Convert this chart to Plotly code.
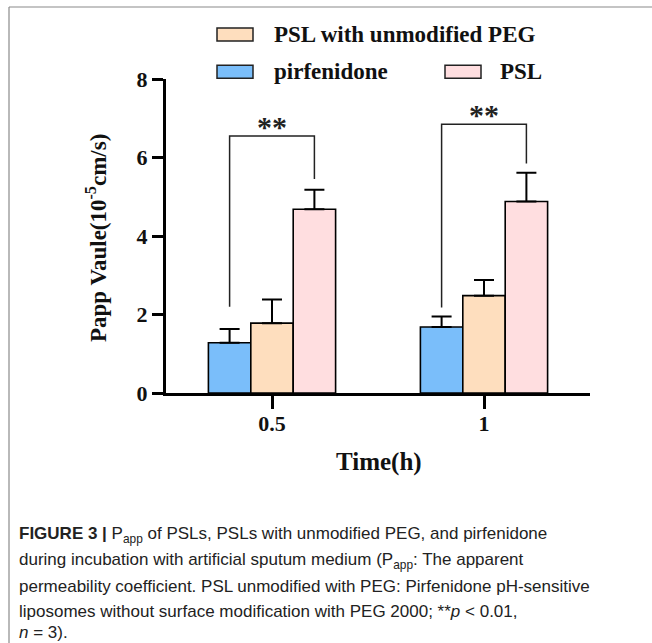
import plotly.graph_objects as go

# ---- data ----
categories = ["0.5", "1"]
series_names = ["pirfenidone", "PSL with unmodified PEG", "PSL"]
pirfenidone = [1.28, 1.68]
pirfenidone_err = [0.35, 0.27]
peg_unmod = [1.78, 2.48]
peg_unmod_err = [0.60, 0.40]
psl = [4.68, 4.88]
psl_err = [0.50, 0.73]
sig_labels = ["**", "**"]
bracket_top = [6.55, 6.85]
bracket_left_end = [2.20, 2.18]
bracket_right_end = [5.45, 5.85]
y_ticks = [0, 2, 4, 6, 8]

colors = ["rgb(122,190,250)", "rgb(254,222,190)", "rgb(255,222,224)"]
values = [pirfenidone, peg_unmod, psl]
errors = [pirfenidone_err, peg_unmod_err, psl_err]

W, H = 652, 643
L, R, T, B = 166, 590, 79, 393
xs = list(range(len(categories)))

SERIF = "Liberation Serif, Times New Roman, serif"
SANS = "Liberation Sans, Arial, sans-serif"


def px(xp):
    return (xp - L) / (R - L)


def py(yp):
    return (B - yp) / (B - T)


fig = go.Figure()
for name, v, e, c in zip(series_names, values, errors, colors):
    fig.add_trace(go.Bar(
        x=xs, y=v, name=name, marker=dict(color=c, line=dict(color="black", width=1.6)),
        error_y=dict(type="data", array=e, arrayminus=[0] * len(e), symmetric=False,
                     color="black", thickness=2, width=10),
        showlegend=False,
    ))

shapes = []
annotations = []

# significance brackets
off = 0.2
for i, (top, le, re, lab) in enumerate(zip(bracket_top, bracket_left_end, bracket_right_end, sig_labels)):
    fig.add_trace(go.Scatter(
        x=[i - off, i - off, i + off, i + off], y=[le, top, top, re],
        mode="lines", line=dict(color="#222", width=1.5), showlegend=False, hoverinfo="skip"))
    annotations.append(dict(x=i, y=top, text="<b>%s</b>" % lab, showarrow=False, xref="x", yref="y",
                            yanchor="bottom", yshift=-9,
                            font=dict(family=SERIF, size=30, color="#222")))

# manual legend
leg = [
    (series_names[1], colors[1], 217, 253, 34.5, 272),
    (series_names[0], colors[0], 217, 253, 71.7, 272),
    (series_names[2], colors[2], 445, 481, 71.7, 498),
]
for name, c, x0, x1, yc, tx in leg:
    shapes.append(dict(type="rect", xref="paper", yref="paper", x0=px(x0), x1=px(x1),
                       y0=py(yc + 6.5), y1=py(yc - 6.5), fillcolor=c,
                       line=dict(color="#222", width=1.5)))
    annotations.append(dict(x=px(tx), y=py(yc), xref="paper", yref="paper", xanchor="left",
                            yanchor="middle", text="<b>%s</b>" % name, showarrow=False,
                            font=dict(family=SERIF, size=23, color="#111")))

# axis titles
annotations.append(dict(x=px(96), y=py(238), xref="paper", yref="paper", xanchor="center",
                        yanchor="middle", textangle=-90, showarrow=False,
                        text="<b>Papp Vaule(10<sup>-5</sup>cm/s)</b>",
                        font=dict(family=SERIF, size=23, color="#111")))
annotations.append(dict(x=px(379), y=py(462), xref="paper", yref="paper", xanchor="center",
                        yanchor="middle", showarrow=False, text="<b>Time(h)</b>",
                        font=dict(family=SERIF, size=25, color="#111")))

# caption
caption_lines = [
    "<b>FIGURE 3 |</b> P<sub>app</sub> of PSLs, PSLs with unmodified PEG, and pirfenidone",
    "during incubation with artificial sputum medium (P<sub>app</sub>: The apparent",
    "permeability coefficient. PSL unmodified with PEG: Pirfenidone pH-sensitive",
    "liposomes without surface modification with PEG 2000; **<i>p</i> < 0.01,",
    "<i>n</i> = 3).",
]
cap_y = [535, 560.5, 586, 611, 632.5]
for t, yc in zip(caption_lines, cap_y):
    annotations.append(dict(x=px(17), y=py(yc), xref="paper", yref="paper", xanchor="left",
                            yanchor="middle", showarrow=False, text=t,
                            font=dict(family=SANS, size=17, color="#222")))

# frame
shapes.append(dict(type="line", xref="paper", yref="paper", x0=px(9), x1=px(652),
                   y0=py(7), y1=py(7), line=dict(color="#8a8a8a", width=1.2)))
shapes.append(dict(type="line", xref="paper", yref="paper", x0=px(9), x1=px(9),
                   y0=py(7), y1=py(643), line=dict(color="#8a8a8a", width=1.2)))

fig.update_layout(
    width=W, height=H, autosize=False,
    margin=dict(l=L, r=W - R, t=T, b=H - B, pad=0),
    paper_bgcolor="white", plot_bgcolor="white",
    barmode="group", bargap=0.4, bargroupgap=0,
    shapes=shapes, annotations=annotations,
    font=dict(family=SERIF, color="#111"),
)
fig.update_xaxes(
    range=[-0.5, 1.5], tickvals=xs, ticktext=["<b>%s</b>" % c for c in categories],
    showline=True, linecolor="black", linewidth=3, ticks="outside", ticklen=13,
    tickwidth=3, tickcolor="black", showgrid=False, zeroline=False,
    tickfont=dict(family=SERIF, size=22, color="#111"), ticklabelstandoff=-4,
)
fig.update_yaxes(
    range=[0, 8], tickvals=y_ticks, ticktext=["<b>%d</b>" % v for v in y_ticks],
    showline=True, linecolor="black", linewidth=3, ticks="outside", ticklen=11,
    tickwidth=3, tickcolor="black", showgrid=False, zeroline=False,
    tickfont=dict(family=SERIF, size=22, color="#111"),
)
fig.write_html("out.html", config={"displayModeBar": False},
               post_script="document.body.style.margin='0';document.body.style.padding='0';")
